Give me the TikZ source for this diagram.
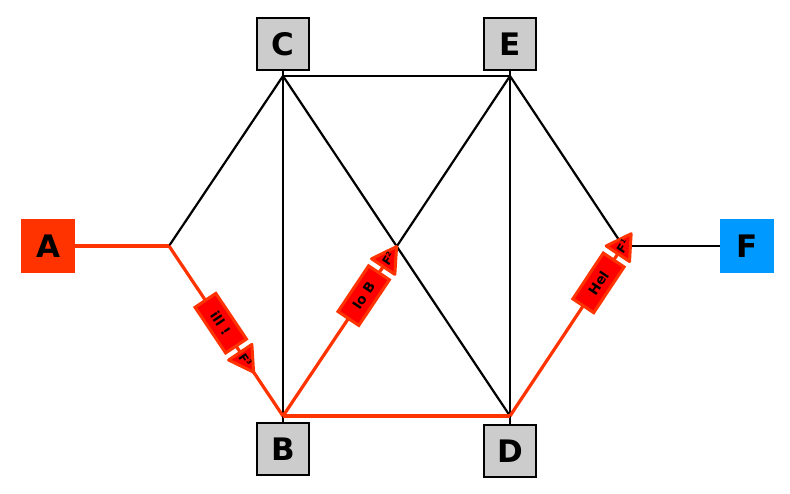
\documentclass[tikz,border=0pt]{standalone}
\usepackage{fontspec}
\setmainfont{DejaVu Sans}
\usetikzlibrary{calc}
\definecolor{redor}{HTML}{FF3300}
\definecolor{bluef}{HTML}{0099FF}
\definecolor{grayn}{HTML}{CCCCCC}
\tikzset{
  box/.style={draw=black, line width=2pt, fill=grayn, minimum size=52pt, inner sep=0pt,
    font=\fontsize{31}{31}\selectfont\bfseries},
  endbox/.style={minimum size=54pt, inner sep=0pt, font=\fontsize{31}{31}\selectfont\bfseries},
  blk/.style={draw=black, line width=2.2pt},
  redl/.style={draw=redor, line width=3.2pt},
  flagbox/.style={draw=redor, fill=red, line width=3pt, minimum width=55pt, minimum height=25pt,
    inner sep=0pt, font=\fontsize{13.5}{13.5}\selectfont\bfseries},
  flagtip/.style={draw=redor, fill=red, line width=3pt, line join=round},
  fltext/.style={inner sep=0pt, font=\fontsize{12}{12}\selectfont\bfseries},
  supd/.style={}
}
\newcommand{\flagsup}[1]{F\raisebox{4.5pt}{\fontsize{6.5}{6.5}\selectfont #1}}
\begin{document}
\begin{tikzpicture}[x=1pt,y=-1pt]
\useasboundingbox (0,0) rectangle (790,494);
% nodes
\node[endbox, fill=redor] (A) at (48,246) {A};
\node[box] (C) at (283,44) {C};
\node[box] (E) at (510,44) {E};
\node[box] (B) at (283,449) {B};
\node[box] (D) at (510,451) {D};
\node[endbox, fill=bluef] (F) at (747,246) {F};
% junctions
\coordinate (Cj) at (283,76);
\coordinate (Ej) at (510,76);
\coordinate (Bj) at (283,416);
\coordinate (Dj) at (510,416);
\coordinate (J1) at (169,246);
\coordinate (J2) at (397,246);
\coordinate (J3) at (623,246);
% black connectors
\draw[blk] (C) -- (Cj);
\draw[blk] (E) -- (Ej);
\draw[blk] (B) -- (Bj);
\draw[blk] (D) -- (Dj);
\draw[blk] (J1) -- (Cj);
\draw[blk] (Cj) -- (Ej);
\draw[blk] (Cj) -- (Bj);
\draw[blk] (Cj) -- (Dj);
\draw[blk] (J2) -- (Ej);
\draw[blk] (Ej) -- (Dj);
\draw[blk] (Ej) -- (J3);
\draw[blk] (J3) -- (F);
% red connectors
\draw[redl] (A) -- (J1);
\draw[redl] (J1) -- (Bj);
\draw[redl] (Bj) -- (J2);
\draw[redl] (Bj) -- (Dj);
\draw[redl] (Dj) -- (J3);
% labels
\node[flagbox, rotate=-56.16] (L1) at ($(J1)!0.454!(Bj)$) {ill !};
\node[flagbox, rotate=56.16] (L2) at ($(Bj)!0.708!(J2)$) {Io B};
\node[flagbox, rotate=56.38] (L3) at ($(Dj)!0.783!(J3)$) {Hel};
\foreach \L/\ang/\n in {L1/-56.16/3, L2/56.16/2, L3/56.38/1}{
  \draw[flagtip] ($(\L.north east)!-6pt!(\L.north west)$)
    -- ($(\L.east)!-30pt!(\L.west)$)
    -- ($(\L.south east)!-6pt!(\L.south west)$) -- cycle;
  \node[fltext, rotate=\ang] (\L t) at ($(\L.east)!-15pt!(\L.west)$) {\flagsup{\n}};
}
\end{tikzpicture}
\end{document}
